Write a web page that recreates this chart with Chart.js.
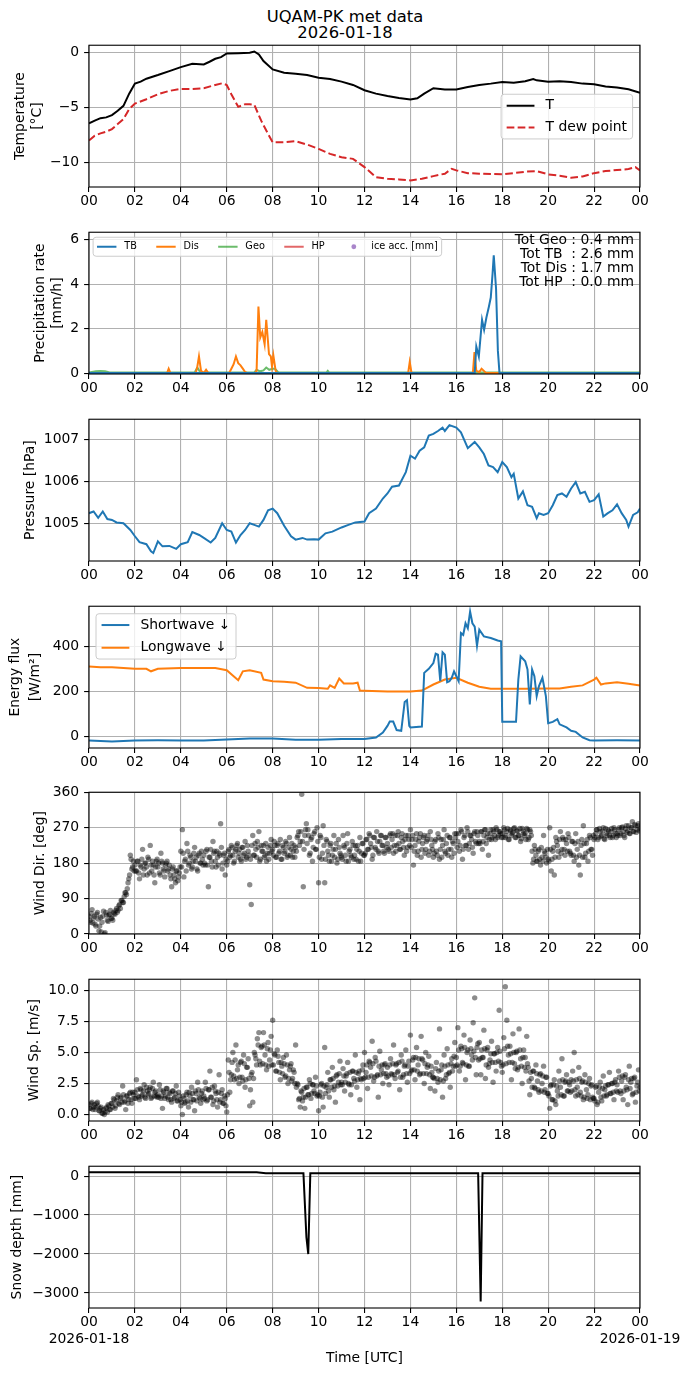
<!DOCTYPE html>
<html>
<head>
<meta charset="utf-8">
<script src="https://cdn.jsdelivr.net/npm/chart.js@4.4.1/dist/chart.umd.min.js"></script>
<style>
  html, body { margin: 0; padding: 0; background: #fff; }
  #fig { position: relative; width: 690px; height: 1377px; overflow: hidden; font-family: 'DejaVu Sans', sans-serif; }
  .ttl { position: absolute; left: 0; width: 690px; text-align: center; font-size: 16.4px; line-height: 18px; color: #000; }
  canvas { position: absolute; left: 0; }
</style>
</head>
<body>
<div id="fig">
  <div class="ttl" style="top:8px">UQAM-PK met data</div>
  <div class="ttl" style="top:24px">2026-01-18</div>
</div>
<script>
// ---- data (x in hours UTC) ----
const hourTicks = [0, 2, 4, 6, 8, 10, 12, 14, 16, 18, 20, 22, 24];
const hourLabels = ['00', '02', '04', '06', '08', '10', '12', '14', '16', '18', '20', '22', '00'];
const dateStart = '2026-01-18';
const dateEnd = '2026-01-19';

const tempHours = [0, 0.25, 0.5, 0.75, 1, 1.25, 1.5, 1.75, 2, 2.25, 2.5, 3, 3.5, 4, 4.5, 5, 5.25, 5.5, 5.75, 6, 6.5, 7, 7.2, 7.4, 7.6, 8, 8.5, 9, 9.5, 10, 10.5, 11, 11.5, 12, 12.5, 13, 13.5, 14, 14.3, 14.6, 15, 15.5, 16, 16.5, 17, 17.5, 18, 18.5, 19, 19.35, 19.5, 20, 20.5, 21, 21.5, 22, 22.5, 23, 23.5, 24];
const tempValues = [-6.48, -6.23, -6.00, -5.93, -5.72, -5.33, -4.88, -3.77, -2.86, -2.68, -2.41, -2.08, -1.72, -1.36, -1.05, -1.11, -0.87, -0.60, -0.45, -0.12, -0.09, -0.06, 0.06, -0.21, -0.81, -1.57, -1.87, -1.96, -2.08, -2.32, -2.44, -2.68, -2.98, -3.46, -3.77, -3.98, -4.16, -4.31, -4.19, -3.77, -3.28, -3.40, -3.40, -3.16, -2.98, -2.86, -2.71, -2.77, -2.65, -2.44, -2.56, -2.68, -2.65, -2.71, -2.86, -2.92, -3.13, -3.22, -3.37, -3.70];
const dewHours = [0, 0.25, 0.5, 0.75, 1, 1.25, 1.5, 1.75, 2, 2.5, 3, 3.5, 4, 4.5, 5, 5.5, 5.8, 6, 6.2, 6.5, 6.8, 7.0, 7.2, 7.5, 7.8, 8, 8.5, 9, 9.5, 10, 10.5, 11, 11.5, 12, 12.5, 13, 13.5, 14, 14.5, 15, 15.5, 15.8, 16, 16.5, 17, 17.5, 18, 18.5, 19, 19.5, 20, 20.5, 21, 21.5, 22, 22.5, 23, 23.5, 23.8, 24];
const dewValues = [-8.04, -7.59, -7.38, -7.23, -6.99, -6.54, -6.08, -5.18, -4.67, -4.28, -3.83, -3.52, -3.34, -3.34, -3.28, -2.98, -2.83, -2.98, -3.83, -4.97, -4.73, -4.73, -4.79, -6.23, -7.44, -8.19, -8.19, -8.10, -8.40, -8.80, -9.25, -9.55, -9.70, -10.45, -11.36, -11.51, -11.57, -11.66, -11.51, -11.27, -11.05, -10.60, -10.75, -11.00, -11.05, -11.08, -11.11, -11.00, -10.87, -10.81, -11.11, -11.23, -11.42, -11.30, -11.00, -10.81, -10.72, -10.63, -10.45, -10.75];
const tempTicks = [-10, -5, 0];
const tempTickLabels = ['\u221210', '\u22125', '0'];

const tbHours = [0, 16.8, 16.87, 16.98, 17.12, 17.21, 17.31, 17.42, 17.5, 17.58, 17.63, 17.73, 17.81, 17.88, 24];
const tbRates = [0, 0, 1.2, 0.75, 2.4, 1.95, 2.5, 3.0, 3.4, 4.5, 5.3, 3.8, 1.0, 0, 0];
const disHours = [0, 3.4, 3.47, 3.55, 4.65, 4.72, 4.79, 4.88, 5.0, 5.1, 5.2, 5.3, 6.1, 6.2, 6.3, 6.4, 6.5, 6.6, 6.7, 6.8, 6.9, 7.23, 7.3, 7.38, 7.46, 7.55, 7.65, 7.72, 7.84, 7.92, 7.97, 8.03, 8.13, 8.2, 13.9, 13.97, 14.05, 16.72, 16.79, 16.87, 17.0, 17.1, 17.2, 17.3, 24];
const disRates = [0, 0, 0.2, 0, 0, 0.3, 0.75, 0.1, 0, 0.15, 0, 0, 0, 0.2, 0.4, 0.75, 0.45, 0.35, 0.2, 0.05, 0, 0, 0.1, 3.0, 1.6, 1.85, 1.3, 2.4, 0.85, 0.75, 0.3, 0.8, 0.1, 0, 0, 0.5, 0, 0, 0.95, 0.1, 0.05, 0.2, 0.1, 0, 0];
const geoHours = [0, 0.3, 0.5, 0.7, 0.9, 4.6, 4.72, 4.85, 7.2, 7.3, 7.45, 7.6, 7.72, 7.85, 8.0, 8.1, 8.25, 10.35, 10.4, 10.45, 24];
const geoRates = [0.03, 0.08, 0.1, 0.08, 0.03, 0.03, 0.25, 0.03, 0.03, 0.15, 0.08, 0.12, 0.25, 0.15, 0.2, 0.2, 0.03, 0.03, 0.1, 0.03, 0.03];
const hpHours = [];
const hpRates = [];
const iceHours = [];
const iceAcc = [];
const precipTotals = ['Tot Geo : 0.4 mm', 'Tot TB  : 2.6 mm', 'Tot Dis : 1.7 mm', 'Tot HP  : 0.0 mm'];
const precipTicks = [0, 2, 4, 6];
const precipTickLabels = ['0', '2', '4', '6'];

const presHours = [0, 0.2, 0.4, 0.6, 0.8, 1.0, 1.2, 1.5, 1.8, 2.0, 2.2, 2.5, 2.7, 2.8, 3.0, 3.2, 3.5, 3.8, 4.0, 4.3, 4.5, 4.8, 5.0, 5.3, 5.5, 5.8, 6.0, 6.2, 6.4, 6.6, 6.8, 7.0, 7.2, 7.4, 7.6, 7.8, 8.0, 8.2, 8.5, 8.8, 9.0, 9.3, 9.5, 9.8, 10.0, 10.3, 10.6, 11.0, 11.3, 11.6, 12.0, 12.2, 12.5, 12.8, 13.0, 13.2, 13.5, 13.8, 14.0, 14.2, 14.4, 14.6, 14.8, 15.0, 15.2, 15.4, 15.5, 15.7, 16.0, 16.2, 16.5, 16.8, 17.0, 17.2, 17.4, 17.6, 17.8, 18.0, 18.2, 18.4, 18.5, 18.7, 18.9, 19.1, 19.3, 19.5, 19.6, 19.8, 20.0, 20.2, 20.4, 20.6, 20.8, 21.0, 21.2, 21.4, 21.6, 21.8, 22.0, 22.2, 22.4, 22.6, 22.8, 23.0, 23.2, 23.4, 23.5, 23.7, 23.9, 24];
const presValues = [1005.24, 1005.28, 1005.13, 1005.28, 1005.10, 1005.08, 1005.02, 1005.00, 1004.84, 1004.69, 1004.55, 1004.50, 1004.33, 1004.29, 1004.57, 1004.45, 1004.46, 1004.39, 1004.50, 1004.55, 1004.79, 1004.72, 1004.65, 1004.54, 1004.65, 1005.00, 1004.84, 1004.80, 1004.54, 1004.72, 1004.84, 1005.00, 1004.96, 1004.92, 1005.08, 1005.31, 1005.35, 1005.24, 1004.94, 1004.69, 1004.61, 1004.65, 1004.61, 1004.62, 1004.61, 1004.76, 1004.80, 1004.90, 1004.96, 1005.02, 1005.04, 1005.24, 1005.35, 1005.59, 1005.71, 1005.87, 1005.90, 1006.22, 1006.61, 1006.54, 1006.73, 1006.81, 1007.09, 1007.13, 1007.20, 1007.28, 1007.20, 1007.34, 1007.28, 1007.17, 1006.79, 1006.94, 1006.81, 1006.65, 1006.38, 1006.34, 1006.22, 1006.46, 1006.34, 1006.10, 1006.18, 1005.59, 1005.76, 1005.43, 1005.39, 1005.12, 1005.24, 1005.20, 1005.24, 1005.43, 1005.67, 1005.71, 1005.63, 1005.83, 1005.98, 1005.71, 1005.75, 1005.51, 1005.55, 1005.69, 1005.16, 1005.24, 1005.31, 1005.45, 1005.24, 1005.08, 1004.92, 1005.20, 1005.26, 1005.35];
const presTicks = [1005, 1006, 1007];
const presTickLabels = ['1005', '1006', '1007'];

const swHours = [0, 1, 2, 3, 4, 5, 6, 7, 8, 9, 10, 11, 12, 12.5, 12.8, 13.0, 13.1, 13.25, 13.4, 13.6, 13.75, 13.85, 13.95, 14.0, 14.5, 14.6, 14.8, 15.0, 15.1, 15.2, 15.3, 15.4, 15.5, 15.6, 15.7, 15.8, 15.9, 16.0, 16.1, 16.2, 16.3, 16.4, 16.5, 16.6, 16.7, 16.8, 16.9, 17.0, 17.2, 17.5, 17.8, 17.95, 18.0, 18.6, 18.7, 18.8, 19.0, 19.1, 19.2, 19.3, 19.4, 19.5, 19.6, 19.75, 19.9, 20.0, 20.2, 20.4, 20.5, 20.8, 21.0, 21.2, 21.5, 21.8, 22, 23, 24];
const swValues = [-19, -24, -19, -18, -19, -19, -15, -10, -10, -16, -16, -13, -13, -6, 16, 46, 65, 65, 27, 24, 153, 161, 46, 39, 43, 283, 301, 327, 369, 364, 246, 375, 364, 241, 246, 261, 290, 268, 246, 461, 453, 505, 483, 557, 505, 490, 404, 476, 446, 439, 428, 424, 64, 64, 253, 357, 335, 298, 142, 298, 268, 179, 224, 261, 179, 58, 64, 76, 53, 39, 24, 19, -6, -18, -19, -18, -19];
const lwHours = [0, 0.5, 1, 1.5, 2, 2.5, 2.7, 3, 4, 5, 5.5, 6, 6.3, 6.5, 6.7, 7, 7.5, 7.6, 8, 8.5, 9, 9.5, 10, 10.4, 10.5, 10.7, 10.9, 11.1, 11.5, 11.7, 11.8, 12, 13, 14, 14.5, 15, 15.5, 16, 16.5, 17, 17.5, 18, 19, 20, 20.5, 21, 21.5, 22, 22.1, 22.3, 22.5, 23, 23.5, 24];
const lwValues = [312, 308, 308, 305, 301, 301, 290, 301, 305, 305, 305, 295, 268, 250, 290, 295, 283, 253, 246, 243, 239, 216, 215, 212, 227, 216, 258, 236, 236, 239, 204, 203, 200, 200, 204, 231, 253, 261, 239, 221, 212, 212, 212, 213, 213, 221, 227, 253, 261, 231, 236, 241, 234, 227];
const fluxTicks = [0, 200, 400];
const fluxTickLabels = ['0', '200', '400'];

// wind: two interleaved sample sets, each one value every 4 minutes (15 per hour);
// set B sits 2 minutes after set A
const windSampleMinutes = 4;
const windOffsetMinutes = 2;
const windDir = [
  45, 30, 62, 40, 25, 50, 38, 20, 5, 45, 0, 55, 35, 48, 60,
  40, 55, 50, 65, 60, 75, 85, 80, 95, 105, 115, 140, 200, 165, 185,
  175, 160, 185, 140, 170, 215, 165, 180, 150, 190, 225, 160, 175, 130, 185,
  170, 155, 205, 180, 160, 175, 185, 165, 150, 120, 170, 140, 160, 135, 155,
  210, 265, 145, 190, 230, 175, 200, 165, 185, 220, 195, 160, 205, 180, 190,
  200, 175, 215, 120, 195, 185, 235, 210, 170, 195, 205, 280, 165, 200, 150,
  175, 210, 195, 225, 200, 185, 215, 230, 205, 190, 220, 200, 235, 195, 210,
  125, 75, 250, 200, 215, 235, 260, 190, 210, 225, 200, 185, 220, 205, 240,
  215, 235, 195, 225, 205, 240, 190, 220, 210, 230, 200, 245, 215, 195, 225,
  220, 245, 260, 235, 355, 120, 250, 280, 265, 200, 240, 185, 255, 215, 270,
  130, 250, 190, 275, 130, 240, 210, 185, 230, 200, 250, 215, 180, 240, 205,
  195, 250, 220, 185, 255, 210, 200, 235, 190, 225, 215, 185, 245, 205, 230,
  200, 240, 215, 255, 230, 190, 245, 220, 260, 210, 235, 250, 225, 205, 245,
  230, 210, 255, 240, 205, 250, 225, 260, 215, 245, 235, 200, 250, 220, 240,
  265, 240, 175, 225, 255, 210, 245, 195, 230, 250, 215, 240, 200, 260, 225,
  195, 235, 210, 255, 190, 240, 225, 265, 205, 250, 215, 245, 195, 230, 255,
  255, 235, 210, 265, 190, 245, 225, 270, 215, 250, 240, 205, 260, 230, 250,
  235, 260, 215, 250, 265, 245, 200, 255, 240, 265, 250, 270, 245, 260, 255,
  255, 270, 245, 260, 240, 265, 250, 258, 270, 245, 262, 250, 235, 268, 255,
  255, 268, 240, 265, 250, 180, 225, 200, 185, 215, 175, 195, 250, 205, 180,
  190, 270, 160, 210, 150, 245, 225, 195, 260, 215, 240, 200, 230, 255, 210,
  200, 235, 185, 255, 215, 175, 150, 240, 275, 195, 230, 185, 250, 215, 200,
  240, 255, 265, 245, 260, 250, 270, 240, 255, 265, 250, 260, 245, 270, 255,
  255, 265, 250, 270, 260, 245, 275, 262, 255, 270, 285, 260, 275, 265, 280,
  268
];
const windDirB = [
  35, 52, 28, 45, 20, 55, 8, 42, 30, 58, 3, 48, 32, 50, 40,
  35, 52, 60, 55, 72, 65, 85, 80, 105, 100, 130, 150, 190, 170, 160,
  160, 185, 155, 175, 190, 150, 180, 170, 195, 155, 175, 185, 150, 170, 190,
  180, 150, 185, 165, 145, 180, 160, 175, 140, 165, 150, 130, 160, 145, 170,
  170, 205, 185, 160, 210, 180, 195, 170, 205, 185, 165, 200, 180, 210, 175,
  180, 210, 175, 195, 215, 170, 205, 185, 210, 175, 200, 220, 180, 205, 190,
  185, 215, 200, 220, 180, 210, 225, 195, 215, 185, 220, 205, 190, 225, 200,
  190, 225, 200, 230, 195, 220, 185, 225, 210, 195, 230, 205, 190, 225, 210,
  200, 225, 195, 230, 210, 190, 225, 205, 235, 195, 220, 200, 230, 210, 195,
  210, 250, 225, 260, 235, 215, 265, 230, 250, 205, 245, 220, 260, 215, 235,
  195, 245, 205, 225, 190, 235, 200, 225, 185, 215, 195, 230, 190, 220, 200,
  190, 225, 200, 230, 185, 215, 195, 225, 200, 190, 225, 210, 185, 230, 200,
  205, 240, 215, 250, 220, 200, 245, 215, 235, 205, 250, 225, 210, 245, 220,
  215, 250, 220, 255, 225, 210, 250, 230, 215, 255, 220, 240, 210, 250, 225,
  220, 250, 210, 240, 200, 235, 255, 215, 245, 205, 235, 250, 210, 240, 215,
  205, 240, 200, 245, 215, 195, 240, 210, 230, 200, 245, 215, 235, 205, 245,
  220, 255, 225, 260, 215, 250, 225, 260, 230, 250, 220, 255, 235, 260, 230,
  230, 260, 235, 265, 230, 255, 240, 265, 245, 260, 240, 265, 250, 260, 245,
  245, 265, 250, 268, 240, 262, 255, 268, 245, 262, 250, 268, 242, 262, 250,
  240, 265, 245, 260, 210, 190, 215, 185, 210, 190, 220, 185, 210, 195, 215,
  185, 215, 190, 220, 195, 235, 210, 240, 205, 245, 215, 240, 210, 245, 205,
  235, 200, 230, 195, 235, 200, 225, 195, 230, 205, 240, 210, 245, 215, 250,
  245, 265, 240, 268, 248, 262, 242, 268, 250, 262, 245, 268, 250, 265, 245,
  250, 270, 255, 272, 250, 268, 258, 275, 255, 270, 260, 278, 258, 275, 262
];
const windSpeed = [
  0.8, 0.5, 1.0, 0.6, 0.4, 0.9, 0.7, 0.3, 0.6, 0.1, 0.0, 0.5, 0.2, 0.7, 0.4,
  0.9, 1.3, 0.5, 1.1, 1.6, 0.8, 1.4, 2.3, 1.0, 0.4, 1.5, 1.2, 1.8, 0.9, 1.6,
  1.8, 2.8, 1.5, 1.2, 2.0, 1.6, 2.4, 1.3, 1.9, 1.7, 2.2, 1.4, 2.6, 1.8, 1.5,
  1.6, 2.4, 1.3, 0.5, 1.8, 1.5, 2.1, 1.2, 1.7, 1.0, 1.9, 1.4, 2.3, 1.1, 1.5,
  0.7, 0.0, 1.3, 1.0, 1.8, 0.6, 1.5, 2.2, 1.2, 0.3, 1.7, 2.6, 1.4, 0.9, 1.9,
  1.5, 2.6, 1.1, 2.0, 3.5, 1.4, 0.8, 2.3, 1.7, 0.6, 3.2, 1.2, 2.0, 0.9, 1.3,
  0.2, 4.4, 1.8, 3.2, 5.0, 2.8, 5.6, 3.6, 2.5, 4.2, 3.0, 4.8, 2.2, 3.8, 4.5,
  0.7, 3.2, 1.0, 5.0, 4.5, 6.1, 6.6, 4.0, 5.5, 6.6, 4.8, 3.6, 5.8, 4.4, 6.3,
  7.6, 4.9, 3.5, 5.2, 4.2, 2.8, 3.9, 4.6, 3.0, 4.8, 2.5, 3.6, 4.1, 2.9, 3.4,
  5.6, 2.5, 1.2, 0.6, 1.8, 1.4, 0.5, 2.2, 1.6, 2.8, 1.3, 2.4, 1.9, 3.0, 1.5,
  0.3, 1.8, 2.5, 0.6, 5.4, 2.2, 3.4, 1.4, 2.8, 3.8, 2.0, 1.0, 3.2, 2.6, 4.3,
  2.6, 3.7, 1.9, 3.1, 4.2, 2.4, 1.6, 3.5, 2.9, 4.8, 2.2, 3.3, 1.2, 2.8, 4.0,
  5.0, 3.4, 2.1, 4.3, 3.8, 5.9, 2.7, 4.6, 3.1, 1.4, 5.1, 3.6, 2.5, 4.0, 3.3,
  3.8, 2.4, 4.5, 3.2, 5.6, 2.9, 4.1, 3.5, 2.0, 4.8, 3.0, 3.9, 5.2, 2.6, 4.3,
  6.4, 3.6, 4.6, 2.8, 5.4, 4.0, 3.2, 6.3, 4.4, 2.5, 5.0, 3.8, 4.7, 2.1, 3.4,
  3.0, 1.9, 4.2, 2.6, 6.9, 3.6, 1.4, 4.8, 2.9, 5.3, 3.3, 2.2, 4.5, 3.9, 5.8,
  4.6, 7.0, 3.5, 5.5, 4.2, 6.4, 2.8, 5.0, 3.9, 6.0, 4.8, 7.4, 9.4, 3.2, 5.7,
  5.8, 3.2, 4.6, 6.8, 2.9, 5.2, 3.8, 4.4, 5.9, 2.6, 4.9, 3.5, 5.4, 8.4, 4.2,
  3.4, 6.2, 10.3, 7.6, 4.8, 5.5, 2.8, 6.5, 4.1, 5.0, 3.6, 6.9, 4.5, 2.5, 5.2,
  4.6, 6.3, 3.8, 1.6, 2.9, 3.5, 2.2, 4.0, 2.7, 1.8, 3.3, 2.5, 3.9, 2.0, 3.0,
  1.7, 0.5, 2.4, 1.2, 2.8, 0.8, 1.9, 3.5, 2.2, 4.5, 1.5, 2.6, 3.2, 1.9, 2.4,
  2.8, 3.5, 5.0, 1.5, 2.2, 3.8, 1.8, 2.6, 1.2, 3.2, 2.0, 1.6, 2.9, 2.3, 1.4,
  1.3, 2.2, 0.8, 1.8, 2.6, 1.1, 3.1, 2.0, 1.5, 2.4, 3.4, 1.7, 2.5, 1.2, 2.8,
  2.4, 3.5, 1.9, 2.7, 1.2, 3.0, 2.2, 0.8, 3.9, 2.6, 1.6, 2.9, 1.0, 2.3, 3.6,
  2.2
];
const windSpeedB = [
  0.5, 0.9, 0.4, 0.8, 0.6, 1.0, 0.3, 0.5, 0.1, 0.4, 0.2, 0.6, 0.8, 0.4, 0.9,
  0.6, 1.2, 0.7, 1.4, 0.9, 1.3, 1.0, 1.6, 1.1, 1.5, 0.9, 1.7, 1.2, 1.8, 1.3,
  1.3, 2.0, 1.4, 2.1, 1.5, 1.9, 1.4, 2.2, 1.6, 2.0, 1.3, 2.1, 1.5, 1.9, 1.4,
  1.4, 2.0, 1.5, 1.9, 1.3, 2.1, 1.4, 1.8, 1.2, 1.9, 1.3, 1.7, 1.1, 1.8, 1.2,
  1.0, 1.5, 0.9, 1.6, 1.1, 1.8, 1.0, 1.7, 1.2, 1.9, 1.1, 2.0, 1.3, 1.7, 1.2,
  1.3, 2.1, 1.2, 2.0, 1.4, 2.2, 1.1, 1.9, 1.2, 1.8, 1.0, 1.7, 0.9, 1.5, 0.7,
  1.6, 3.4, 2.8, 4.2, 3.1, 4.4, 2.9, 4.0, 3.0, 4.3, 2.7, 4.1, 2.8, 3.8, 2.9,
  2.0, 3.4, 2.9, 4.8, 4.0, 5.6, 4.3, 5.4, 4.1, 5.6, 4.0, 5.3, 3.9, 5.2, 4.0,
  4.0, 4.8, 3.5, 4.7, 3.4, 4.2, 3.3, 4.1, 3.1, 4.0, 2.9, 3.9, 2.7, 3.6, 2.5,
  2.2, 2.4, 1.3, 1.9, 1.1, 2.1, 1.4, 2.2, 1.6, 2.5, 1.7, 2.4, 1.7, 2.3, 1.6,
  1.5, 2.4, 1.4, 2.3, 1.7, 2.4, 1.9, 2.8, 2.2, 2.9, 2.3, 3.1, 2.3, 3.3, 2.4,
  2.4, 3.1, 2.6, 3.3, 2.5, 3.4, 2.4, 3.5, 2.7, 3.4, 2.8, 3.5, 2.9, 3.6, 2.9,
  3.0, 4.0, 3.0, 4.2, 3.1, 4.1, 3.0, 4.3, 3.2, 3.9, 3.2, 4.0, 3.3, 4.1, 3.0,
  3.1, 4.0, 3.3, 4.1, 3.2, 4.0, 3.4, 4.2, 3.0, 4.3, 3.2, 4.0, 3.3, 3.9, 3.3,
  3.5, 4.4, 3.6, 4.6, 3.5, 4.5, 3.3, 4.5, 3.3, 4.1, 3.3, 4.0, 3.2, 3.9, 3.0,
  2.9, 3.7, 2.9, 3.5, 2.8, 4.0, 2.7, 3.9, 3.2, 4.0, 3.4, 4.1, 3.5, 4.7, 3.9,
  4.0, 5.2, 3.9, 5.3, 4.1, 5.4, 4.0, 5.2, 3.9, 5.3, 4.4, 5.1, 4.6, 5.4, 4.4,
  4.5, 5.2, 4.6, 5.3, 4.0, 5.4, 4.1, 4.9, 4.2, 4.9, 4.2, 5.0, 4.3, 5.1, 3.9,
  4.0, 5.3, 4.1, 5.5, 4.2, 4.9, 4.2, 5.0, 3.7, 5.1, 3.8, 5.2, 3.9, 4.6, 3.8,
  3.5, 4.1, 2.7, 3.4, 2.2, 3.5, 2.1, 3.3, 2.0, 3.2, 1.9, 3.1, 1.8, 3.0, 1.7,
  1.5, 2.3, 1.2, 2.4, 1.1, 2.3, 1.5, 2.7, 1.6, 2.8, 1.5, 2.7, 1.9, 2.6, 1.8,
  1.9, 2.7, 2.0, 2.8, 1.6, 2.9, 1.5, 2.7, 1.4, 2.6, 1.3, 2.5, 1.2, 2.4, 1.3,
  1.1, 2.3, 1.0, 2.2, 1.4, 2.1, 1.5, 2.3, 1.6, 2.4, 1.7, 2.5, 1.8, 2.6, 1.9,
  1.8, 3.0, 1.7, 3.1, 1.9, 3.2, 2.0, 2.8, 2.1, 2.9, 1.7, 3.0, 1.8, 2.6, 1.9
];
const dirTicks = [0, 90, 180, 270, 360];
const dirTickLabels = ['0', '90', '180', '270', '360'];
const speedTicks = [0, 2.5, 5, 7.5, 10];
const speedTickLabels = ['0.0', '2.5', '5.0', '7.5', '10.0'];

const snowHours = [0, 7.3, 7.7, 9.34, 9.47, 9.55, 9.64, 16.95, 17.06, 17.14, 24];
const snowDepth = [100, 100, 75, 75, -1570, -2000, 75, 75, -3220, 75, 70];
const snowTicks = [-3000, -2000, -1000, 0];
const snowTickLabels = ['\u22123000', '\u22122000', '\u22121000', '0'];

// ---- helpers ----
Chart.defaults.font.family = "'DejaVu Sans', sans-serif";
Chart.defaults.font.size = 13.9;
Chart.defaults.color = '#000';

const FS = 13.9;
const PLOT_H = 143;
const PAD_TOP = 12;
const plotTops = [44, 231, 418, 605, 791, 978, 1165];

function pts(xs, ys) {
  return xs.map((x, i) => ({ x: x, y: ys[i] }));
}
function windPts(vals, offsetMin) {
  return vals.map((v, i) => ({ x: (i * windSampleMinutes + offsetMin) / 60, y: v }));
}

function drawLegend(ctx, a, lg) {
  const fs = lg.size;
  ctx.font = fs + "px 'DejaVu Sans'";
  const hl = 2 * fs, hp = 0.8 * fs, bp = 0.4 * fs, cs = 2 * fs;
  const widths = lg.items.map(it => ctx.measureText(it.label).width);
  let w, h;
  if (lg.horizontal) {
    w = 2 * bp + widths.reduce((s, v) => s + v, 0) + lg.items.length * (hl + hp) + (lg.items.length - 1) * cs;
    h = lg.height;
  } else {
    w = 2 * bp + hl + hp + Math.max(...widths);
    h = 2 * lg.edge + lg.pitch * (lg.items.length - 1);
  }
  const x0 = lg.right != null ? a.right - lg.right - w : a.left + lg.left;
  const y0 = a.top + lg.top;
  const r = 3;
  ctx.beginPath();
  ctx.moveTo(x0 + r, y0);
  ctx.arcTo(x0 + w, y0, x0 + w, y0 + h, r);
  ctx.arcTo(x0 + w, y0 + h, x0, y0 + h, r);
  ctx.arcTo(x0, y0 + h, x0, y0, r);
  ctx.arcTo(x0, y0, x0 + w, y0, r);
  ctx.closePath();
  ctx.fillStyle = 'rgba(255,255,255,0.8)';
  ctx.fill();
  ctx.strokeStyle = '#cccccc';
  ctx.lineWidth = 1;
  ctx.stroke();

  let x = x0 + bp;
  lg.items.forEach((it, i) => {
    const yc = lg.horizontal ? y0 + h / 2 : y0 + lg.edge + i * lg.pitch;
    const hx = lg.horizontal ? x : x0 + bp;
    if (it.dot) {
      ctx.beginPath();
      ctx.arc(hx + hl / 2, yc, fs * 0.25, 0, Math.PI * 2);
      ctx.fillStyle = it.color;
      ctx.fill();
    } else {
      ctx.beginPath();
      ctx.setLineDash(it.dash || []);
      ctx.moveTo(hx, yc);
      ctx.lineTo(hx + hl, yc);
      ctx.strokeStyle = it.color;
      ctx.lineWidth = 2;
      ctx.stroke();
      ctx.setLineDash([]);
    }
    ctx.fillStyle = '#000';
    ctx.textAlign = 'left';
    ctx.textBaseline = 'middle';
    ctx.fillText(it.label, hx + hl + hp, yc);
    if (lg.horizontal) x += hl + hp + widths[i] + cs;
  });
}

function overlay(extra) {
  return {
    id: 'overlay',
    afterDraw(chart) {
      const ctx = chart.ctx, a = chart.chartArea;
      ctx.save();
      ctx.strokeStyle = '#000';
      ctx.lineWidth = 1.1;
      ctx.strokeRect(a.left, a.top, a.right - a.left, a.bottom - a.top);
      if (extra.legend) drawLegend(ctx, a, extra.legend);
      if (extra.note) {
        ctx.font = FS + "px 'DejaVu Sans'";
        ctx.fillStyle = '#000';
        ctx.textAlign = 'right';
        ctx.textBaseline = 'middle';
        extra.note.forEach((t, i) => ctx.fillText(t, a.right - 6, a.top + 8 + i * 14));
      }
      ctx.restore();
    }
  };
}

function makePanel(idx, cfg) {
  const fig = document.getElementById('fig');
  const c = document.createElement('canvas');
  const xh = cfg.last ? 60 : 24;
  c.width = 690;
  c.height = PAD_TOP + PLOT_H + xh;
  c.style.top = (plotTops[idx] - PAD_TOP) + 'px';
  fig.appendChild(c);

  const lh = cfg.titleLH || 17;
  const grid = { color: '#b0b0b0', lineWidth: 1.1, tickColor: '#000', tickWidth: 1.1, tickLength: 4.9 };

  new Chart(c, {
    type: 'line',
    data: { datasets: cfg.datasets },
    options: {
      responsive: false,
      animation: false,
      events: [],
      layout: { padding: { top: PAD_TOP, right: 50, bottom: 0, left: 0 } },
      plugins: { legend: { display: false }, tooltip: { enabled: false } },
      scales: {
        x: {
          type: 'linear', min: 0, max: 24,
          afterFit: s => { s.height = xh; },
          afterBuildTicks: s => { s.ticks = hourTicks.map(v => ({ value: v })); },
          ticks: {
            autoSkip: false, maxRotation: 0, padding: 1,
            callback: (v, i) => {
              if (cfg.last && i === 0) return [hourLabels[i], dateStart];
              if (cfg.last && i === hourLabels.length - 1) return [hourLabels[i], dateEnd];
              return hourLabels[i];
            }
          },
          grid: grid,
          border: { display: false },
          title: cfg.last
            ? { display: true, text: 'Time [UTC]', padding: { top: 0, bottom: 1.7 }, font: { size: FS, lineHeight: 1.2 } }
            : { display: false }
        },
        y: {
          type: 'linear', min: cfg.yMin, max: cfg.yMax,
          afterFit: s => { s.width = 89; },
          afterBuildTicks: s => { s.ticks = cfg.yTicks.map(v => ({ value: v })); },
          ticks: { autoSkip: false, padding: 4.9, callback: (v, i) => cfg.yLabels[i] },
          grid: grid,
          border: { display: false },
          title: {
            display: true, text: cfg.yTitle,
            padding: { top: cfg.titleX - lh / 2, bottom: 0 },
            font: { size: FS, lineHeight: lh / FS }
          }
        }
      }
    },
    plugins: [overlay(cfg)]
  });
}

function lineSet(data, color, extra) {
  return Object.assign({ data: data, borderColor: color, borderWidth: 2, pointRadius: 0, tension: 0, fill: false }, extra || {});
}
function dotSet(data) {
  return { data: data, showLine: false, pointRadius: 2.7, pointBorderWidth: 0, pointBackgroundColor: 'rgba(0,0,0,0.45)', borderColor: 'rgba(0,0,0,0)' };
}

const BLUE = '#1f77b4', ORANGE = '#ff7f0e', GREEN = 'rgba(44,160,44,0.7)', RED = '#d62728', PINK = 'rgba(214,39,40,0.7)', PURPLE = 'rgba(148,103,189,0.8)';

makePanel(0, {
  yMin: -12.26, yMax: 0.63, yTicks: tempTicks, yLabels: tempTickLabels,
  yTitle: ['Temperature', '[\u00b0C]'], titleX: 20, titleLH: 17.5,
  datasets: [
    lineSet(pts(tempHours, tempValues), '#000'),
    lineSet(pts(dewHours, dewValues), RED, { borderDash: [7.7, 3.3] })
  ],
  legend: {
    size: FS, right: 7.4, top: 49, edge: 11.5, pitch: 21.7,
    items: [{ label: 'T', color: '#000' }, { label: 'T dew point', color: RED, dash: [7.7, 3.3] }]
  }
});

makePanel(1, {
  yMin: -0.04, yMax: 6.34, yTicks: precipTicks, yLabels: precipTickLabels,
  yTitle: ['Precipitation rate', '[mm/h]'], titleX: 40.5, titleLH: 16.5,
  datasets: [
    lineSet(pts(tbHours, tbRates), BLUE),
    lineSet(pts(disHours, disRates), ORANGE),
    lineSet(pts(geoHours, geoRates), GREEN),
    lineSet(pts(hpHours, hpRates), PINK),
    dotSet(pts(iceHours, iceAcc))
  ],
  legend: {
    size: 9.72, horizontal: true, left: 4.1, top: 5, height: 19,
    items: [
      { label: 'TB', color: BLUE }, { label: 'Dis', color: ORANGE }, { label: 'Geo', color: GREEN },
      { label: 'HP', color: PINK }, { label: 'ice acc. [mm]', color: PURPLE, dot: true }
    ]
  },
  note: precipTotals
});

makePanel(2, {
  yMin: 1004.10, yMax: 1007.48, yTicks: presTicks, yLabels: presTickLabels,
  yTitle: 'Pressure [hPa]', titleX: 30,
  datasets: [lineSet(pts(presHours, presValues), BLUE)]
});

makePanel(3, {
  yMin: -53, yMax: 581, yTicks: fluxTicks, yLabels: fluxTickLabels,
  yTitle: ['Energy flux', '[W/m\u00b2]'], titleX: 15.5, titleLH: 20,
  datasets: [
    lineSet(pts(swHours, swValues), BLUE),
    lineSet(pts(lwHours, lwValues), ORANGE)
  ],
  legend: {
    size: FS, left: 7, top: 7.5, edge: 11.3, pitch: 22.7,
    items: [{ label: 'Shortwave \u2193', color: BLUE }, { label: 'Longwave \u2193', color: ORANGE }]
  }
});

makePanel(4, {
  yMin: 0, yMax: 360, yTicks: dirTicks, yLabels: dirTickLabels,
  yTitle: 'Wind Dir. [deg]', titleX: 40,
  datasets: [dotSet(windPts(windDir, 0)), dotSet(windPts(windDirB, windOffsetMinutes))]
});

makePanel(5, {
  yMin: -0.52, yMax: 10.9, yTicks: speedTicks, yLabels: speedTickLabels,
  yTitle: 'Wind Sp. [m/s]', titleX: 34,
  datasets: [dotSet(windPts(windSpeed, 0)), dotSet(windPts(windSpeedB, windOffsetMinutes))]
});

makePanel(6, {
  yMin: -3385, yMax: 252, yTicks: snowTicks, yLabels: snowTickLabels,
  yTitle: 'Snow depth [mm]', titleX: 17, last: true,
  datasets: [lineSet(pts(snowHours, snowDepth), '#000')]
});
</script>
</body>
</html>
